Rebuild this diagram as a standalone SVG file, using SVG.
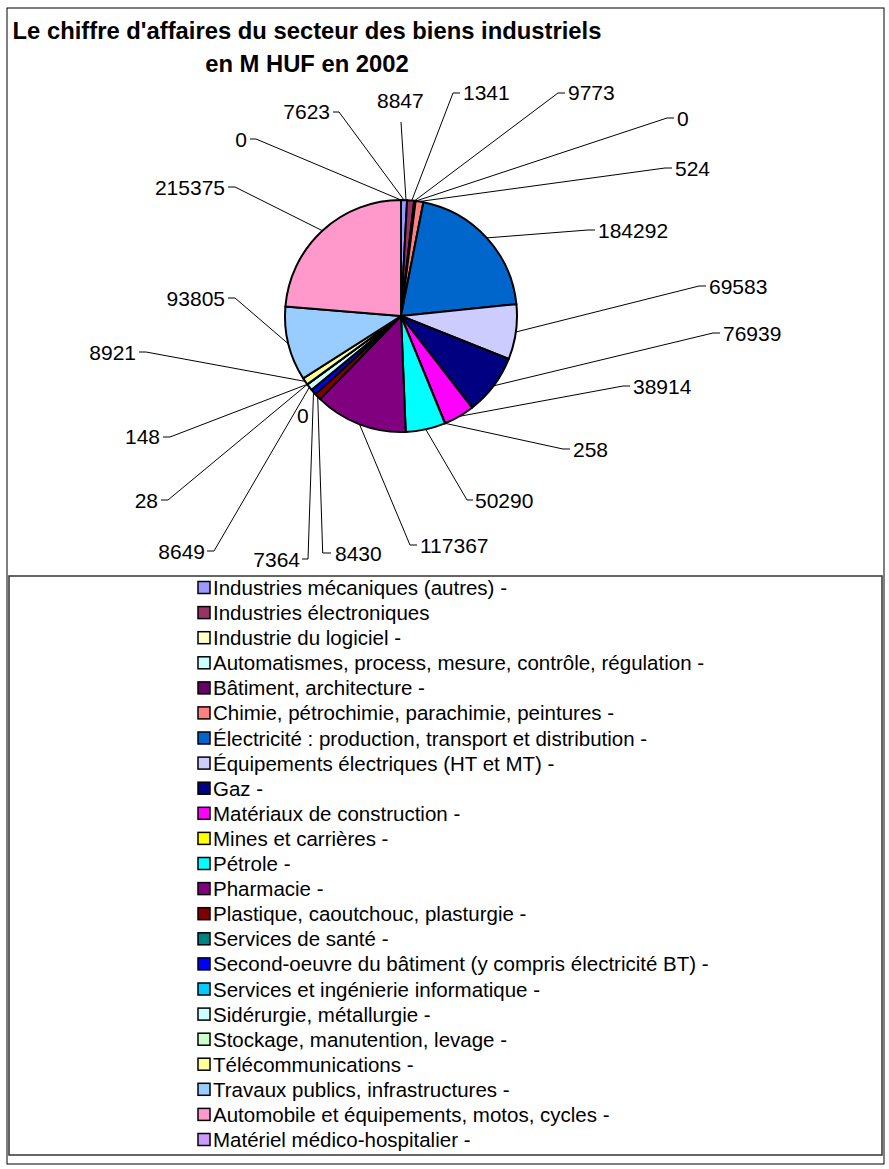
<svg xmlns="http://www.w3.org/2000/svg" width="889" height="1169" viewBox="0 0 889 1169">
<style>
text{font-family:"Liberation Sans",Arial,sans-serif;fill:#000}
.t{font-size:23.8px;font-weight:bold}
.l{font-size:21px}
.lg{font-size:20.5px}
.s{stroke:#000;stroke-width:2;stroke-linejoin:round}
.k{fill:none;stroke:#000;stroke-width:1}
.sq{stroke:#000;stroke-width:1.5}
</style>
<rect x="7" y="8" width="877" height="1156" fill="#fff" stroke="#000" stroke-width="1"/>
<g id="title">
<text class="t" x="307" y="39" text-anchor="middle">Le chiffre d'affaires du secteur des biens industriels</text>
<text class="t" x="307" y="72" text-anchor="middle">en M HUF en 2002</text>
</g>
<g id="pie">
<g id="s1"><path class="s" fill="#9999FF" d="M401,316 L401,200 A116,116 0 0 1 407.11,200.16 Z"/></g>
<g id="s2"><path class="s" fill="#993366" d="M401,316 L407.11,200.16 A116,116 0 0 1 414.19,200.75 Z"/></g>
<g id="s3"><path class="s" fill="#FFFFCC" d="M401,316 L414.19,200.75 A116,116 0 0 1 415.25,200.88 Z"/></g>
<g id="s5"><path class="s" fill="#660066" d="M401,316 L415.25,200.88 A116,116 0 0 1 415.67,200.93 Z"/></g>
<g id="s6"><path class="s" fill="#FF8080" d="M401,316 L415.67,200.93 A116,116 0 0 1 423.41,202.19 Z"/></g>
<g id="s7"><path class="s" fill="#0066CC" d="M401,316 L423.41,202.19 A116,116 0 0 1 516.40,304.21 Z"/></g>
<g id="s8"><path class="s" fill="#CCCCFF" d="M401,316 L516.40,304.21 A116,116 0 0 1 508.75,358.97 Z"/></g>
<g id="s9"><path class="s" fill="#000080" d="M401,316 L508.75,358.97 A116,116 0 0 1 472.05,407.70 Z"/></g>
<g id="s10"><path class="s" fill="#FF00FF" d="M401,316 L472.05,407.70 A116,116 0 0 1 445.11,423.29 Z"/></g>
<g id="s11"><path class="s" fill="#FFFF00" d="M401,316 L445.11,423.29 A116,116 0 0 1 444.92,423.36 Z"/></g>
<g id="s12"><path class="s" fill="#00FFFF" d="M401,316 L444.92,423.36 A116,116 0 0 1 405.69,431.91 Z"/></g>
<g id="s13"><path class="s" fill="#800080" d="M401,316 L405.69,431.91 A116,116 0 0 1 320.12,399.15 Z"/></g>
<g id="s14"><path class="s" fill="#800000" d="M401,316 L320.12,399.15 A116,116 0 0 1 315.41,394.29 Z"/></g>
<g id="s15"><path class="s" fill="#0000FF" d="M401,316 L315.41,394.29 A116,116 0 0 1 311.55,389.86 Z"/></g>
<g id="s17"><path class="s" fill="#CCFFFF" d="M401,316 L311.55,389.86 A116,116 0 0 1 307.30,384.39 Z"/></g>
<g id="s18"><path class="s" fill="#CCFFCC" d="M401,316 L307.30,384.39 A116,116 0 0 1 307.29,384.37 Z"/></g>
<g id="s19"><path class="s" fill="#00CCFF" d="M401,316 L307.29,384.37 A116,116 0 0 1 307.22,384.27 Z"/></g>
<g id="s20"><path class="s" fill="#FFFF99" d="M401,316 L307.22,384.27 A116,116 0 0 1 303.18,378.34 Z"/></g>
<g id="s21"><path class="s" fill="#99CCFF" d="M401,316 L303.18,378.34 A116,116 0 0 1 285.38,306.59 Z"/></g>
<g id="s22"><path class="s" fill="#FF99CC" d="M401,316 L285.38,306.59 A116,116 0 0 1 401,200 Z"/></g>
</g>
<g id="connectors">
<path class="k" d="M250,139 L256,139 L401,200"/>
<path class="k" d="M333,112 L339,112 L404,200"/>
<path class="k" d="M401,122 L406,200"/>
<path class="k" d="M460,93 L453,93 L412,200"/>
<path class="k" d="M565,93 L558,93 L415,200.5"/>
<path class="k" d="M674,118 L667,118 L416.5,200.8"/>
<path class="k" d="M672,168 L665,168 L419.5,201.5"/>
<path class="k" d="M595,230 L588,230 L486.7,237.9"/>
<path class="k" d="M706,286 L699,286 L515.9,332"/>
<path class="k" d="M720,333 L713,333 L493.7,385.8"/>
<path class="k" d="M630,386 L623,386 L459.1,416.4"/>
<path class="k" d="M570,449 L563,449 L445,423.3"/>
<path class="k" d="M425.7,429.3 L467,500 L473,500"/>
<path class="k" d="M359.5,424.3 L410,545 L417,545"/>
<path class="k" d="M317.7,396.8 L322.7,553 L331,553"/>
<path class="k" d="M302,559 L308,559 L313.5,392.1"/>
<path class="k" d="M207,551 L214,551 L309.4,387.2"/>
<path class="k" d="M161,500 L168,500 L307.3,384.4"/>
<path class="k" d="M163,437 L170,437 L307.3,384.3"/>
<path class="k" d="M139,352 L146,352 L305.2,381.4"/>
<path class="k" d="M228,298 L235,298 L288.4,343.9"/>
<path class="k" d="M228,187 L235,187 L322.4,230.7"/>
</g>
<g id="labels">
<text class="l" x="247" y="146.5" text-anchor="end">0</text>
<text class="l" x="330" y="119" text-anchor="end">7623</text>
<text class="l" x="377" y="107.5">8847</text>
<text class="l" x="463" y="100">1341</text>
<text class="l" x="568" y="100">9773</text>
<text class="l" x="677" y="125.5">0</text>
<text class="l" x="675" y="175.5">524</text>
<text class="l" x="598" y="237.5">184292</text>
<text class="l" x="709" y="293.5">69583</text>
<text class="l" x="723" y="340.5">76939</text>
<text class="l" x="633" y="393.5">38914</text>
<text class="l" x="573" y="456.5">258</text>
<text class="l" x="475" y="507.5">50290</text>
<text class="l" x="420" y="552.5">117367</text>
<text class="l" x="335" y="560.5">8430</text>
<text class="l" x="300" y="566.5" text-anchor="end">7364</text>
<text class="l" x="297" y="422.5">0</text>
<text class="l" x="205" y="558.5" text-anchor="end">8649</text>
<text class="l" x="158" y="507.5" text-anchor="end">28</text>
<text class="l" x="160" y="444" text-anchor="end">148</text>
<text class="l" x="136" y="359.5" text-anchor="end">8921</text>
<text class="l" x="225" y="305.5" text-anchor="end">93805</text>
<text class="l" x="225" y="194.5" text-anchor="end">215375</text>
</g>
<g id="legend">
<rect x="9" y="576" width="873" height="579" fill="#fff" stroke="#333" stroke-width="1.5"/>
<g id="lg1"><rect class="sq" x="198" y="581.5" width="12" height="12" fill="#9999FF"/><text class="lg" x="213" y="595">Industries mécaniques (autres) -</text></g>
<g id="lg2"><rect class="sq" x="198" y="606.6" width="12" height="12" fill="#993366"/><text class="lg" x="213" y="620.1">Industries électroniques</text></g>
<g id="lg3"><rect class="sq" x="198" y="631.7" width="12" height="12" fill="#FFFFCC"/><text class="lg" x="213" y="645.2">Industrie du logiciel -</text></g>
<g id="lg4"><rect class="sq" x="198" y="656.8" width="12" height="12" fill="#CCFFFF"/><text class="lg" x="213" y="670.3">Automatismes, process, mesure, contrôle, régulation -</text></g>
<g id="lg5"><rect class="sq" x="198" y="681.9" width="12" height="12" fill="#660066"/><text class="lg" x="213" y="695.4">Bâtiment, architecture -</text></g>
<g id="lg6"><rect class="sq" x="198" y="706.9" width="12" height="12" fill="#FF8080"/><text class="lg" x="213" y="720.4">Chimie, pétrochimie, parachimie, peintures -</text></g>
<g id="lg7"><rect class="sq" x="198" y="732.0" width="12" height="12" fill="#0066CC"/><text class="lg" x="213" y="745.5">Électricité : production, transport et distribution -</text></g>
<g id="lg8"><rect class="sq" x="198" y="757.1" width="12" height="12" fill="#CCCCFF"/><text class="lg" x="213" y="770.6">Équipements électriques (HT et MT) -</text></g>
<g id="lg9"><rect class="sq" x="198" y="782.2" width="12" height="12" fill="#000080"/><text class="lg" x="213" y="795.7">Gaz -</text></g>
<g id="lg10"><rect class="sq" x="198" y="807.3" width="12" height="12" fill="#FF00FF"/><text class="lg" x="213" y="820.8">Matériaux de construction -</text></g>
<g id="lg11"><rect class="sq" x="198" y="832.4" width="12" height="12" fill="#FFFF00"/><text class="lg" x="213" y="845.9">Mines et carrières -</text></g>
<g id="lg12"><rect class="sq" x="198" y="857.5" width="12" height="12" fill="#00FFFF"/><text class="lg" x="213" y="871">Pétrole -</text></g>
<g id="lg13"><rect class="sq" x="198" y="882.6" width="12" height="12" fill="#800080"/><text class="lg" x="213" y="896.1">Pharmacie -</text></g>
<g id="lg14"><rect class="sq" x="198" y="907.7" width="12" height="12" fill="#800000"/><text class="lg" x="213" y="921.2">Plastique, caoutchouc, plasturgie -</text></g>
<g id="lg15"><rect class="sq" x="198" y="932.8" width="12" height="12" fill="#008080"/><text class="lg" x="213" y="946.3">Services de santé -</text></g>
<g id="lg16"><rect class="sq" x="198" y="957.9" width="12" height="12" fill="#0000FF"/><text class="lg" x="213" y="971.4">Second-oeuvre du bâtiment (y compris électricité BT) -</text></g>
<g id="lg17"><rect class="sq" x="198" y="983.0" width="12" height="12" fill="#00CCFF"/><text class="lg" x="213" y="996.5">Services et ingénierie informatique -</text></g>
<g id="lg18"><rect class="sq" x="198" y="1008.1" width="12" height="12" fill="#CCFFFF"/><text class="lg" x="213" y="1021.6">Sidérurgie, métallurgie -</text></g>
<g id="lg19"><rect class="sq" x="198" y="1033.2" width="12" height="12" fill="#CCFFCC"/><text class="lg" x="213" y="1046.7">Stockage, manutention, levage -</text></g>
<g id="lg20"><rect class="sq" x="198" y="1058.2" width="12" height="12" fill="#FFFF99"/><text class="lg" x="213" y="1071.7">Télécommunications -</text></g>
<g id="lg21"><rect class="sq" x="198" y="1083.3" width="12" height="12" fill="#99CCFF"/><text class="lg" x="213" y="1096.8">Travaux publics, infrastructures -</text></g>
<g id="lg22"><rect class="sq" x="198" y="1108.4" width="12" height="12" fill="#FF99CC"/><text class="lg" x="213" y="1121.9">Automobile et équipements, motos, cycles -</text></g>
<g id="lg23"><rect class="sq" x="198" y="1133.5" width="12" height="12" fill="#CC99FF"/><text class="lg" x="213" y="1147">Matériel médico-hospitalier -</text></g>
</g>
</svg>
